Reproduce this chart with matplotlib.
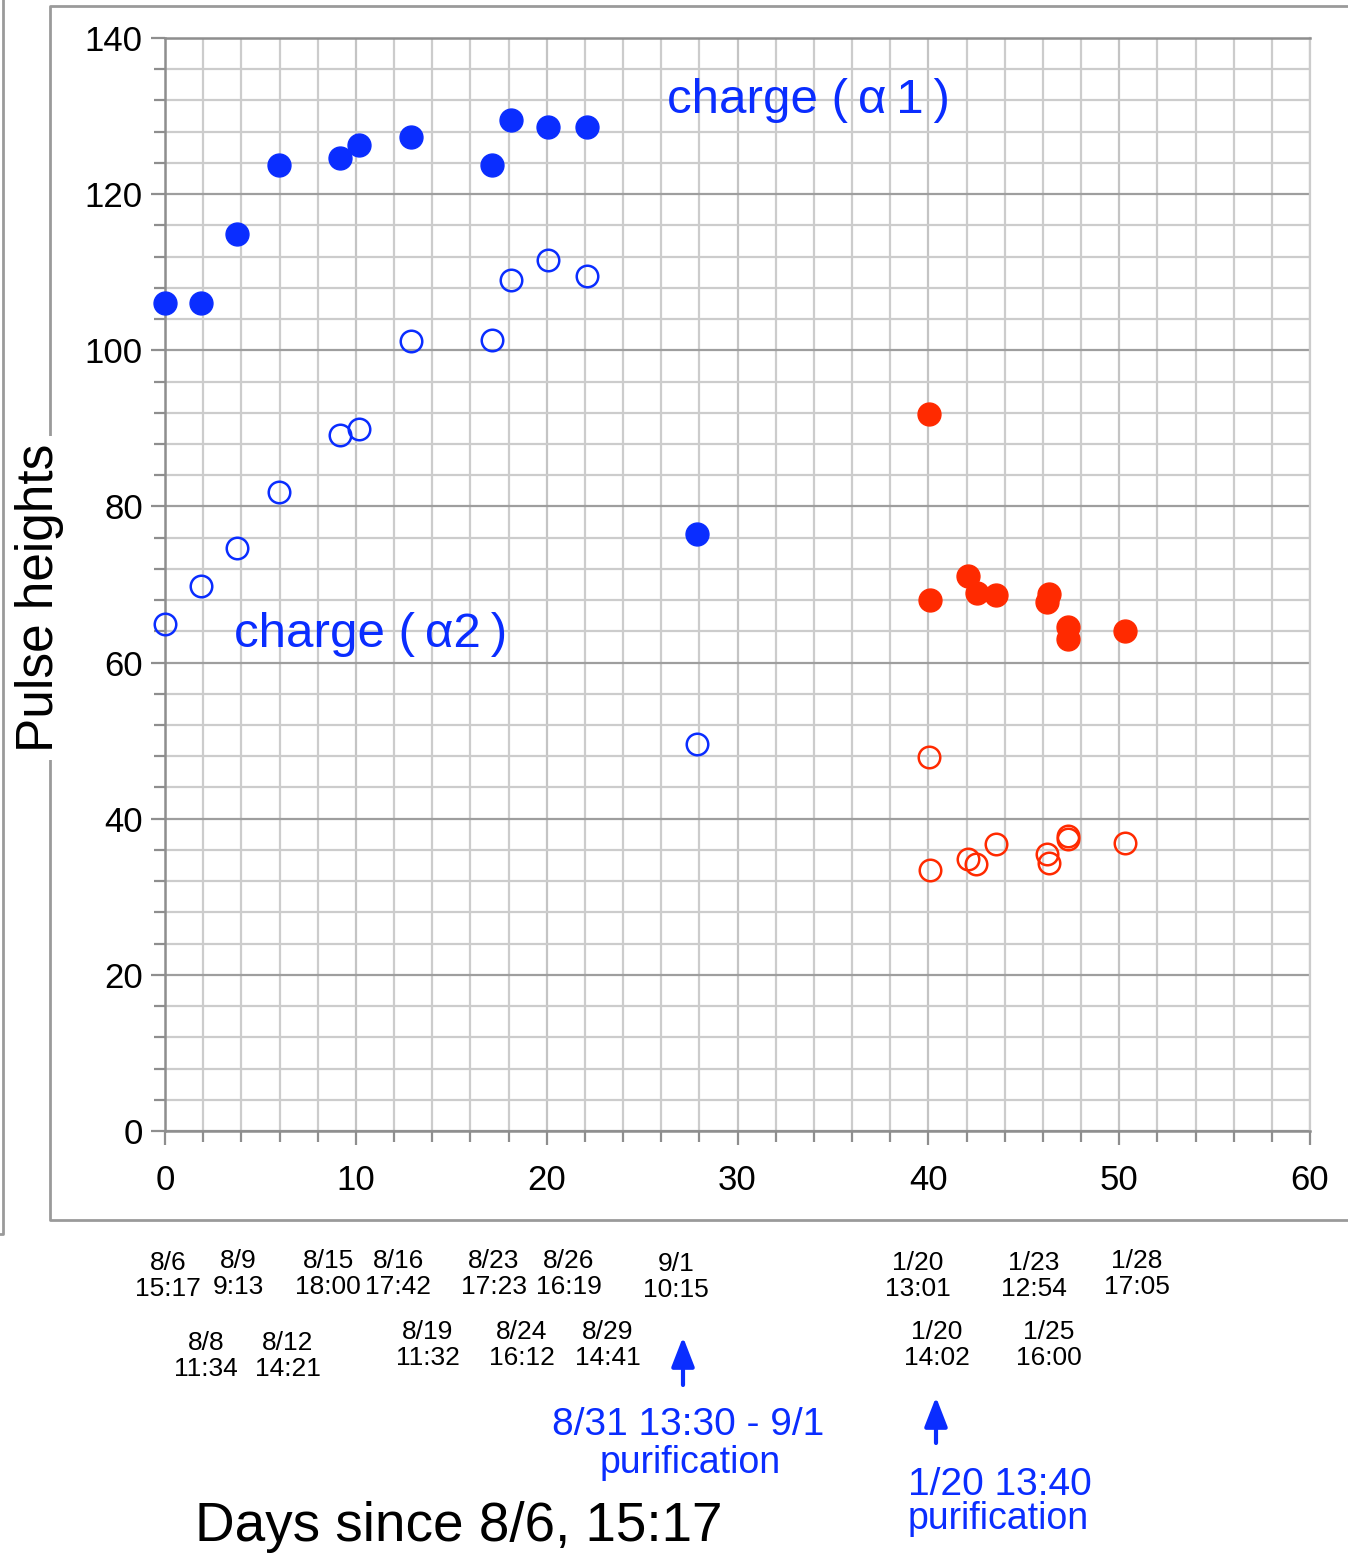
import matplotlib.pyplot as plt
from matplotlib.lines import Line2D
from matplotlib.patches import FancyArrowPatch
from matplotlib.ticker import MultipleLocator

W, H = 1348, 1554
BLUE = "#0a2dff"
RED = "#ff2a00"
OUTPUT_PATH = "out.png"

# charge (alpha 1), first run
blue_days = [0.0, 1.89, 3.77, 5.97, 9.17, 10.17, 12.89, 17.14, 18.13, 20.07, 22.11, 27.88]
blue_a1 = [106.1, 106.1, 114.9, 123.7, 124.6, 126.3, 127.3, 123.7, 129.5, 128.6, 128.6, 76.5]
# charge (alpha 2), first run
blue_a2 = [64.9, 69.8, 74.7, 81.8, 89.1, 89.9, 101.2, 101.3, 109.0, 111.6, 109.5, 49.6]

# second run (after 1/20 purification)
red_days = [40.04, 40.07, 42.06, 42.53, 43.53, 46.31, 46.24, 47.34, 47.34, 50.32]
red_a1 = [91.8, 68.0, 71.1, 68.9, 68.7, 68.8, 67.8, 64.5, 63.0, 64.0]
red_days_a2 = [40.04, 40.07, 42.06, 42.51, 43.53, 46.22, 46.31, 47.34, 47.34, 50.32]
red_a2 = [47.9, 33.4, 34.8, 34.2, 36.8, 35.5, 34.3, 37.8, 37.4, 36.9]

# date labels under the axis: (text, x px, y px)
date_labels = [
    ("8/6\n15:17", 168, 1276), ("8/9\n9:13", 238, 1274),
    ("8/15\n18:00", 328, 1274), ("8/16\n17:42", 398, 1274),
    ("8/23\n17:23", 494, 1274), ("8/26\n16:19", 569, 1274),
    ("9/1\n10:15", 676, 1277),
    ("8/8\n11:34", 206, 1356), ("8/12\n14:21", 288, 1356),
    ("8/19\n11:32", 428, 1345), ("8/24\n16:12", 522, 1345),
    ("8/29\n14:41", 608, 1345),
    ("1/20\n13:01", 918, 1276), ("1/23\n12:54", 1034, 1276),
    ("1/28\n17:05", 1137, 1274),
    ("1/20\n14:02", 937, 1345), ("1/25\n16:00", 1049, 1345),
]


def fx(px):
    return px / W


def fy(py):
    return 1 - py / H


plt.rcParams["font.family"] = ["Liberation Sans", "DejaVu Sans"]

fig = plt.figure(figsize=(W / 100, H / 100), dpi=100)

# outer frames
fig.add_artist(Line2D([fx(W), fx(50), fx(50), fx(W)], [fy(6), fy(6), fy(1220), fy(1220)],
                      color="#9a9a9a", lw=2))
fig.add_artist(Line2D([fx(0), fx(3), fx(3)], [fy(1234), fy(1234), fy(0)], color="#9a9a9a", lw=2))

ax = fig.add_axes([fx(165), fy(1131), fx(1310) - fx(165), fy(38) - fy(1131)])
ax.set_xlim(0, 60)
ax.set_ylim(0, 140)
ax.xaxis.set_major_locator(MultipleLocator(10))
ax.xaxis.set_minor_locator(MultipleLocator(2))
ax.yaxis.set_major_locator(MultipleLocator(20))
ax.yaxis.set_minor_locator(MultipleLocator(4))
ax.set_axisbelow(True)
ax.grid(which="minor", color="#cccccc", lw=1.6)
ax.grid(which="major", axis="x", color="#c4c4c4", lw=1.6)
ax.grid(which="major", axis="y", color="#9e9e9e", lw=1.6)
for side in ["left", "bottom", "top"]:
    ax.spines[side].set_color("#8e8e8e")
    ax.spines[side].set_linewidth(1.8)
ax.spines["right"].set_color("#cccccc")
ax.spines["right"].set_linewidth(1.6)
ax.tick_params(which="major", direction="out", length=10, width=1.6, color="#8e8e8e",
               labelsize=25, pad=6)
ax.tick_params(which="minor", direction="out", length=8, width=1.6, color="#8e8e8e")
ax.tick_params(axis="x", which="major", pad=14)

ax.plot(blue_days, blue_a1, "o", color=BLUE, ms=16.5, mec=BLUE, clip_on=False, zorder=3)
ax.plot(blue_days, blue_a2, "o", mfc="none", mec=BLUE, ms=15.5, mew=1.8, clip_on=False, zorder=3)
ax.plot(red_days, red_a1, "o", color=RED, ms=16.5, mec=RED, clip_on=False, zorder=3)
ax.plot(red_days_a2, red_a2, "o", mfc="none", mec=RED, ms=15.5, mew=1.8, clip_on=False, zorder=3)

ax.text(26.3, 132.0, "charge (\u2009\u03b1\u20091\u2009)", color=BLUE, fontsize=35.5,
        va="center", ha="left")
ax.text(3.6, 63.6, "charge (\u2009\u03b12\u2009)", color=BLUE, fontsize=35.5,
        va="center", ha="left")

fig.text(fx(40), fy(598), "Pulse heights", rotation=90, fontsize=37, ha="center", va="center",
         bbox=dict(facecolor="white", edgecolor="none", pad=6))

for label, px, py in date_labels:
    fig.text(fx(px), fy(py), label, fontsize=19, ha="center", va="center", linespacing=1.1)

fig.text(fx(459), fy(1527), "Days since 8/6, 15:17", fontsize=39.5, ha="center", va="center")

fig.text(fx(688), fy(1425), "8/31 13:30 - 9/1", color=BLUE, fontsize=28, ha="center", va="center")
fig.text(fx(690), fy(1463), "purification", color=BLUE, fontsize=27, ha="center", va="center")
fig.text(fx(1000), fy(1485), "1/20 13:40", color=BLUE, fontsize=28, ha="center", va="center")
fig.text(fx(998), fy(1519), "purification", color=BLUE, fontsize=27, ha="center", va="center")

for x, y_tip, y_tail in [(683, 1337, 1385), (936, 1397, 1443)]:
    fig.add_artist(FancyArrowPatch(
        (fx(x), fy(y_tail)), (fx(x), fy(y_tip)), transform=fig.transFigure,
        arrowstyle="-|>,head_length=0.9,head_width=0.35", mutation_scale=20,
        shrinkA=0, shrinkB=0, color=BLUE, lw=3))

fig.savefig(OUTPUT_PATH, dpi=100)
